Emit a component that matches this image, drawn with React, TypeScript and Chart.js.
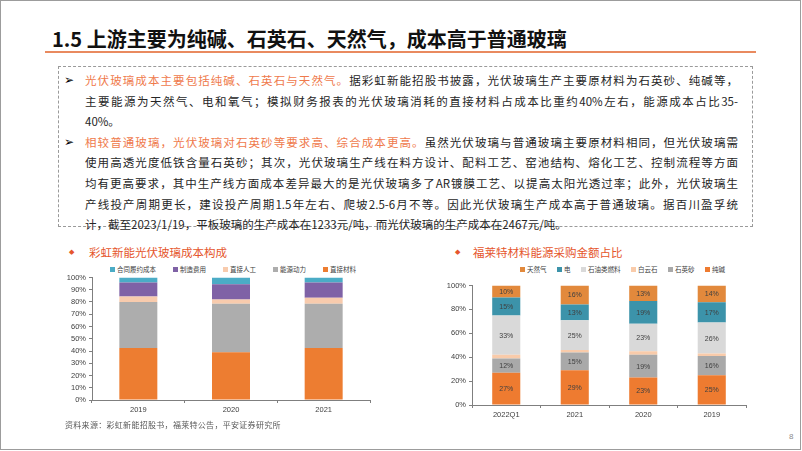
import React, { useEffect, useRef } from 'react';
import { Chart, registerables } from 'chart.js';

Chart.register(...registerables);

// ---- Left chart: 彩虹新能光伏玻璃成本构成 ----
const leftCategories = ['2019', '2020', '2021'];
const directMaterial = [42.5, 39, 42.5];
const energyPower = [37.5, 39.5, 36];
const directLabor = [4.5, 3.5, 5];
const manufacturingCost = [11.5, 12.5, 12.5];
const contractCost = [4, 5.5, 4];

// ---- Right chart: 福莱特材料能源采购金额占比 ----
const rightCategories = ['2022Q1', '2021', '2020', '2019'];
const sodaAsh = [27, 29, 23, 25];
const quartzSand = [12, 15, 19, 16];
const dolomite = [3, 2, 3, 2];
const oilFuel = [33, 25, 23, 26];
const electricity = [15, 13, 19, 17];
const naturalGas = [10, 16, 13, 14];

const yTickValues = [0, 10, 20, 30, 40, 50, 60, 70, 80, 90, 100];

const LABEL_FONT = '"Liberation Sans", "Noto Sans CJK SC", Arial, sans-serif';
const CJK_FONT = '"Noto Sans CJK SC", "Liberation Sans", sans-serif';

const leftSeries = [
  { label: '直接材料', data: directMaterial, color: '#ED7D31' },
  { label: '能源动力', data: energyPower, color: '#ADADAD' },
  { label: '直接人工', data: directLabor, color: '#F8CBAD' },
  { label: '制造费用', data: manufacturingCost, color: '#7F62A6' },
  { label: '合同履约成本', data: contractCost, color: '#4BACC6' },
];

const rightSeries = [
  { label: '纯碱', data: sodaAsh, color: '#EE7B30' },
  { label: '石英砂', data: quartzSand, color: '#A9A9A9' },
  { label: '白云石', data: dolomite, color: '#F9CBAA' },
  { label: '石油类燃料', data: oilFuel, color: '#D9D9D9' },
  { label: '电', data: electricity, color: '#3C93AA' },
  { label: '天然气', data: naturalGas, color: '#E2893C' },
];
const unlabeledSeries = new Set(['白云石']);

const segLabels = {
  id: 'segLabels',
  afterDatasetsDraw(chart: any, _args: any, opts: any) {
    if (!opts || !opts.enabled) return;
    const { ctx } = chart;
    ctx.save();
    ctx.font = `7px ${LABEL_FONT}`;
    ctx.fillStyle = '#404040';
    ctx.textAlign = 'center';
    ctx.textBaseline = 'middle';
    chart.data.datasets.forEach((ds: any, i: number) => {
      if (unlabeledSeries.has(ds.label)) return;
      const meta = chart.getDatasetMeta(i);
      meta.data.forEach((bar: any, j: number) => {
        const v = ds.data[j];
        const p = bar.getProps(['x', 'y', 'base'], true);
        ctx.fillText(`${Math.round(v)}%`, p.x, (p.y + p.base) / 2 + 0.5);
      });
    });
    ctx.restore();
  },
};

function makeOptions(yWidth: number, rightPad: number, withLabels: boolean): any {
  return {
    responsive: false,
    maintainAspectRatio: false,
    animation: false,
    layout: { padding: { top: 7, right: rightPad, bottom: 0, left: 0 } },
    plugins: {
      legend: { display: false },
      tooltip: { enabled: false },
      title: { display: false },
      segLabels: { enabled: withLabels },
    },
    datasets: { bar: { categoryPercentage: 1, barPercentage: 0.41 } },
    scales: {
      x: {
        stacked: true,
        grid: { display: true, drawOnChartArea: false, drawTicks: true, tickLength: 3, color: '#7f7f7f', offset: true },
        border: { display: true, color: '#7f7f7f', width: 1 },
        ticks: { color: '#404040', font: { size: 7.5, family: LABEL_FONT }, padding: 2, maxRotation: 0 },
        afterFit: (s: any) => { s.height = 20; },
      },
      y: {
        stacked: true,
        min: 0,
        max: 100,
        afterBuildTicks: (s: any) => { s.ticks = yTickValues.map((v) => ({ value: v })); },
        grid: { display: true, drawOnChartArea: false, drawTicks: true, tickLength: 3, color: '#7f7f7f' },
        border: { display: true, color: '#7f7f7f', width: 1 },
        ticks: {
          color: '#404040',
          font: { size: 7.5, family: LABEL_FONT },
          padding: 3,
          callback: (v: any) => `${v}%`,
        },
        afterFit: (s: any) => { s.width = yWidth; },
      },
    },
  };
}

function StackedChart(props: {
  categories: string[];
  series: { label: string; data: number[]; color: string }[];
  width: number;
  height: number;
  yWidth: number;
  rightPad: number;
  withLabels: boolean;
}) {
  const ref = useRef<HTMLCanvasElement | null>(null);
  useEffect(() => {
    if (!ref.current) return;
    const chart = new Chart(ref.current, {
      type: 'bar',
      data: {
        labels: props.categories,
        datasets: props.series.map((s) => ({
          label: s.label,
          data: s.data,
          backgroundColor: s.color,
          borderWidth: 0,
        })),
      },
      options: makeOptions(props.yWidth, props.rightPad, props.withLabels),
      plugins: [segLabels],
    } as any);
    return () => chart.destroy();
  }, []);
  return <canvas ref={ref} width={props.width} height={props.height} style={{ width: props.width, height: props.height, display: 'block' }} />;
}

function Legend(props: { series: { label: string; color: string }[]; gap: number }) {
  const items = [...props.series].reverse();
  return (
    <div style={{ display: 'flex', alignItems: 'center', gap: props.gap, fontFamily: CJK_FONT, fontSize: 6.5, color: '#404040', whiteSpace: 'nowrap' }}>
      {items.map((s) => (
        <div key={s.label} style={{ display: 'flex', alignItems: 'center' }}>
          <span style={{ display: 'inline-block', width: 5, height: 5, background: s.color, marginRight: 2 }} />
          <span>{s.label}</span>
        </div>
      ))}
    </div>
  );
}

const ORANGE_TEXT = '#EF7A4C';

const bodyLines: { parts: { t: string; hl?: boolean }[]; justify: boolean; bullet?: boolean }[] = [
  { bullet: true, justify: true, parts: [{ t: '光伏玻璃成本主要包括纯碱、石英石与天然气。', hl: true }, { t: '据彩虹新能招股书披露，光伏玻璃生产主要原材料为石英砂、纯碱等，' }] },
  { justify: true, parts: [{ t: '主要能源为天然气、电和氧气；模拟财务报表的光伏玻璃消耗的直接材料占成本比重约40%左右，能源成本占比35-' }] },
  { justify: false, parts: [{ t: '40%。' }] },
  { bullet: true, justify: true, parts: [{ t: '相较普通玻璃，光伏玻璃对石英砂等要求高、综合成本更高。', hl: true }, { t: '虽然光伏玻璃与普通玻璃主要原材料相同，但光伏玻璃需' }] },
  { justify: true, parts: [{ t: '使用高透光度低铁含量石英砂；其次，光伏玻璃生产线在料方设计、配料工艺、窑池结构、熔化工艺、控制流程等方面' }] },
  { justify: true, parts: [{ t: '均有更高要求，其中生产线方面成本差异最大的是光伏玻璃多了AR镀膜工艺、以提高太阳光透过率；此外，光伏玻璃生' }] },
  { justify: true, parts: [{ t: '产线投产周期更长，建设投产周期1.5年左右、爬坡2.5-6月不等。因此光伏玻璃生产成本高于普通玻璃。据百川盈孚统' }] },
  { justify: false, parts: [{ t: '计，截至2023/1/19，平板玻璃的生产成本在1233元/吨，而光伏玻璃的生产成本在2467元/吨。' }] },
];

export default function App() {
  const abs = (l: number, t: number, extra: React.CSSProperties = {}): React.CSSProperties => ({ position: 'absolute', left: l, top: t, ...extra });
  return (
    <div style={{ position: 'absolute', left: 0, top: 0, width: 802, height: 451, overflow: 'hidden', background: '#fff' }}>
      <div style={abs(0, 0, { width: 801, height: 450, border: '1px solid #9c9c9c', boxSizing: 'border-box' })} />
      {/* Title */}
      <div style={abs(52, 27, { fontFamily: CJK_FONT, fontWeight: 700, fontSize: 20, lineHeight: '24px', color: '#111', whiteSpace: 'nowrap' })}>
        1.5 上游主要为纯碱、石英石、天然气，成本高于普通玻璃
      </div>
      <div style={abs(45, 51, { width: 711, height: 2, background: '#E98A5F' })} />

      {/* Text box */}
      <div style={abs(58, 66, { width: 695, height: 161, border: '1px dashed #9a9a9a', boxSizing: 'border-box' })} />
      {bodyLines.map((ln, i) => {
        const cy = 80 + i * 20.6;
        return (
          <React.Fragment key={i}>
            {ln.bullet && (
              <div style={abs(64, cy - 10, { fontFamily: '"DejaVu Sans", sans-serif', fontSize: 12, fontWeight: 700, lineHeight: '20px', color: '#000' })}>➢</div>
            )}
            <div
              style={abs(85, cy - 10, {
                width: 653,
                fontFamily: CJK_FONT,
                fontSize: 11.5,
                lineHeight: '20px',
                color: '#262626',
                whiteSpace: 'nowrap',
                textAlign: ln.justify ? 'justify' : 'left',
                textAlignLast: ln.justify ? 'justify' : 'left',
                textJustify: 'inter-character',
              } as any)}
            >
              {ln.parts.map((p, k) => (
                <span key={k} style={{ color: p.hl ? ORANGE_TEXT : undefined }}>{p.t}</span>
              ))}
            </div>
          </React.Fragment>
        );
      })}

      {/* Left chart title */}
      <div style={abs(69, 244, { fontSize: 7, lineHeight: '16px', color: '#E5562C', fontFamily: '"DejaVu Sans", sans-serif' })}>◆</div>
      <div style={abs(89, 244, { fontFamily: CJK_FONT, fontSize: 11.5, lineHeight: '16px', color: '#E5562C', whiteSpace: 'nowrap' })}>彩虹新能光伏玻璃成本构成</div>
      <div style={abs(110, 264)}>
        <Legend series={leftSeries} gap={17} />
      </div>
      <div style={abs(40, 270)}>
        <StackedChart categories={leftCategories} series={leftSeries} width={380} height={150} yWidth={52} rightPad={50} withLabels={false} />
      </div>
      <div style={abs(65, 419, { fontFamily: CJK_FONT, fontSize: 8, lineHeight: '12px', color: '#595959', letterSpacing: 0.3, whiteSpace: 'nowrap' })}>
        资料来源：彩虹新能招股书，福莱特公告，平安证券研究所
      </div>

      {/* Right chart title */}
      <div style={abs(455, 244, { fontSize: 7, lineHeight: '16px', color: '#E5562C', fontFamily: '"DejaVu Sans", sans-serif' })}>◆</div>
      <div style={abs(473, 244, { fontFamily: CJK_FONT, fontSize: 11.5, lineHeight: '16px', color: '#E5562C', whiteSpace: 'nowrap' })}>福莱特材料能源采购金额占比</div>
      <div style={abs(520, 264)}>
        <Legend series={rightSeries} gap={10.5} />
      </div>
      <div style={abs(420, 278)}>
        <StackedChart categories={rightCategories} series={rightSeries} width={380} height={147} yWidth={52} rightPad={54} withLabels={true} />
      </div>

      {/* Page number */}
      <div style={abs(789, 431, { fontFamily: LABEL_FONT, fontSize: 8, lineHeight: '12px', color: '#8c8c8c' })}>8</div>
    </div>
  );
}
